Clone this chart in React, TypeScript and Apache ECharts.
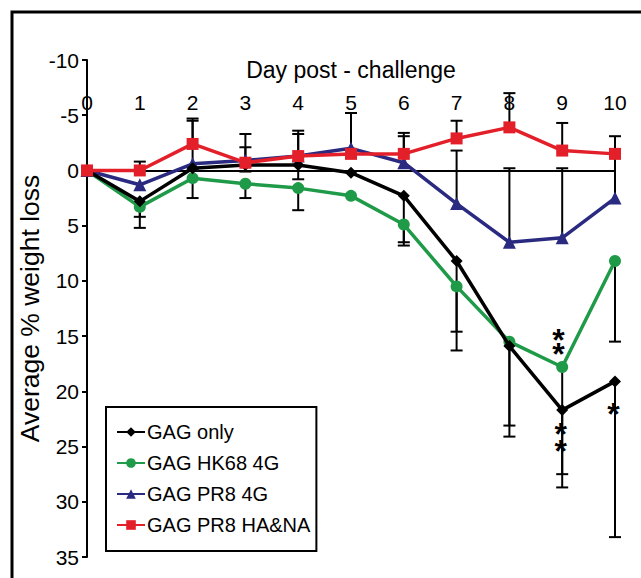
import React, { useEffect, useRef } from "react";
import * as echarts from "echarts";

const days = [0, 1, 2, 3, 4, 5, 6, 7, 8, 9, 10];
const dayLabels = ["0", "1", "2", "3", "4", "5", "6", "7", "8", "9", "10"];
const seriesNames = ["GAG only", "GAG HK68 4G", "GAG PR8 4G", "GAG PR8 HA&NA"];

const gagOnly = [0, 2.8, -0.2, -0.5, -0.5, 0.2, 2.3, 8.2, 15.9, 21.7, 19.1];
const gagHK68 = [0, 3.3, 0.7, 1.2, 1.6, 2.3, 4.9, 10.5, 15.5, 17.8, 8.2];
const gagPR84G = [0, 1.3, -0.6, -0.9, -1.3, -2.0, -0.7, 3.0, 6.5, 6.1, 2.5];
const gagPR8HANA = [0, 0, -2.4, -0.7, -1.3, -1.5, -1.5, -2.9, -3.9, -1.8, -1.5];

// error bar end values (null = no visible bar)
const errGagOnly = [null, 4.2, null, 0.1, 0.8, null, 6.5, 14.6, 23.1, 27.5, 33.2];
const errHK68 = [null, 5.2, 2.5, 2.5, 3.6, null, 6.8, 16.3, 24.1, 28.7, 15.5];
const errPR84G = [null, null, -4.7, -2.1, -3.6, -5.2, -3.1, -1.8, -0.2, -0.2, -3.1];
const errPR8HANA = [null, -0.8, -4.5, -3.3, -3.3, null, -3.4, -4.5, -7.0, -4.3, null];

// significance asterisks
const starDays = [8.93, 8.93, 8.97, 8.97, 9.97];
const starValues = [14.7, 16.0, 23.2, 24.8, 21.4];
const starTexts = ["*", "*", "*", "*", "*"];

const colors = ["#000000", "#1f9a48", "#2a2a80", "#e3202a"];
const symbols = ["diamond", "circle", "triangle", "rect"];
const symbolSizes = [12, 12, 13, 12];

export default function App() {
  const ref = useRef<HTMLDivElement>(null);
  useEffect(() => {
    if (!ref.current) return;
    const chart = echarts.init(ref.current, null, { renderer: "svg" });
    const means = [gagOnly, gagHK68, gagPR84G, gagPR8HANA];
    const errs = [errGagOnly, errHK68, errPR84G, errPR8HANA];
    const errData: number[][] = [];
    means.forEach((m, si) => {
      errs[si].forEach((e, i) => {
        if (e !== null) errData.push([days[i], m[i], e as number]);
      });
    });
    const font = "'Liberation Sans', Arial, sans-serif";
    chart.setOption({
      animation: false,
      backgroundColor: "#ffffff",
      grid: { left: 87, right: 26, top: 60, bottom: 21, containLabel: false, outerBoundsMode: "none" },
      xAxis: {
        type: "value",
        min: 0,
        max: 10,
        interval: 1,
        position: "top",
        name: "Day post - challenge",
        nameLocation: "middle",
        nameGap: -21,
        nameMoveOverlap: false,
        nameTextStyle: { fontFamily: font, fontSize: 23, color: "#000" },
        axisLine: { show: true, onZero: true, lineStyle: { color: "#000", width: 2 } },
        axisTick: { show: false },
        splitLine: { show: false },
        axisLabel: {
          margin: -53,
          fontFamily: font,
          fontSize: 21,
          color: "#000",
          formatter: (v: number) => dayLabels[Math.round(v)] ?? "",
        },
      },
      yAxis: {
        type: "value",
        inverse: true,
        min: -10,
        max: 35,
        interval: 5,
        name: "Average % weight loss",
        nameLocation: "middle",
        nameRotate: 90,
        nameGap: 44,
        nameMoveOverlap: false,
        nameTextStyle: { fontFamily: font, fontSize: 26.5, color: "#000" },
        axisLine: { show: true, onZero: false, lineStyle: { color: "#000", width: 2 } },
        axisTick: { show: true, length: 5, lineStyle: { color: "#000", width: 2 } },
        splitLine: { show: false },
        axisLabel: { margin: 8, fontFamily: font, fontSize: 21, color: "#000" },
      },
      legend: {
        orient: "vertical",
        left: 106,
        top: 407,
        padding: [15, 6, 16, 10],
        itemGap: 11,
        itemWidth: 28,
        itemHeight: 12,
        borderColor: "#000",
        borderWidth: 2,
        backgroundColor: "#fff",
        textStyle: { fontFamily: font, fontSize: 20, lineHeight: 20, color: "#000", padding: [0, 0, 0, -3] },
        data: seriesNames,
      },
      graphic: [
        {
          type: "rect",
          shape: { x: 12, y: 12, width: 700, height: 700 },
          style: { fill: "none", stroke: "#000", lineWidth: 3 },
          silent: true,
          z: 100,
        },
      ],
      series: [
        {
          type: "custom",
          name: "err",
          z: 1,
          data: errData,
          renderItem: (params: any, api: any) => {
            const x = api.value(0);
            const m = api.value(1);
            const e = api.value(2);
            const p1 = api.coord([x, m]);
            const p2 = api.coord([x, e]);
            const hw = 6;
            return {
              type: "group",
              children: [
                { type: "line", shape: { x1: p1[0], y1: p1[1], x2: p2[0], y2: p2[1] }, style: { stroke: "#000", lineWidth: 2 } },
                { type: "line", shape: { x1: p2[0] - hw, y1: p2[1], x2: p2[0] + hw, y2: p2[1] }, style: { stroke: "#000", lineWidth: 2 } },
              ],
            };
          },
        },
        ...seriesNames.map((name, si) => ({
          type: "line",
          name,
          z: 5 + (si === 0 ? 3 : si),
          data: days.map((d, i) => [d, means[si][i]]),
          symbol: symbols[si],
          symbolSize: symbolSizes[si],
          showAllSymbol: true,
          lineStyle: { color: colors[si], width: 3.5 },
          itemStyle: { color: colors[si], borderWidth: 0 },
          color: colors[si],
        })),
        {
          type: "custom",
          name: "stars",
          z: 20,
          data: starDays.map((d, i) => [d, starValues[i]]),
          renderItem: (params: any, api: any) => {
            const p = api.coord([api.value(0), api.value(1)]);
            return {
              type: "text",
              x: p[0],
              y: p[1] + 7,
              style: {
                text: starTexts[params.dataIndex],
                fill: "#000",
                font: `bold 32px ${font}`,
                align: "center",
                verticalAlign: "middle",
              },
            };
          },
        },
      ],
    });
    return () => chart.dispose();
  }, []);
  return <div ref={ref} style={{ position: "fixed", left: 0, top: 0, width: 641, height: 578 }} />;
}
